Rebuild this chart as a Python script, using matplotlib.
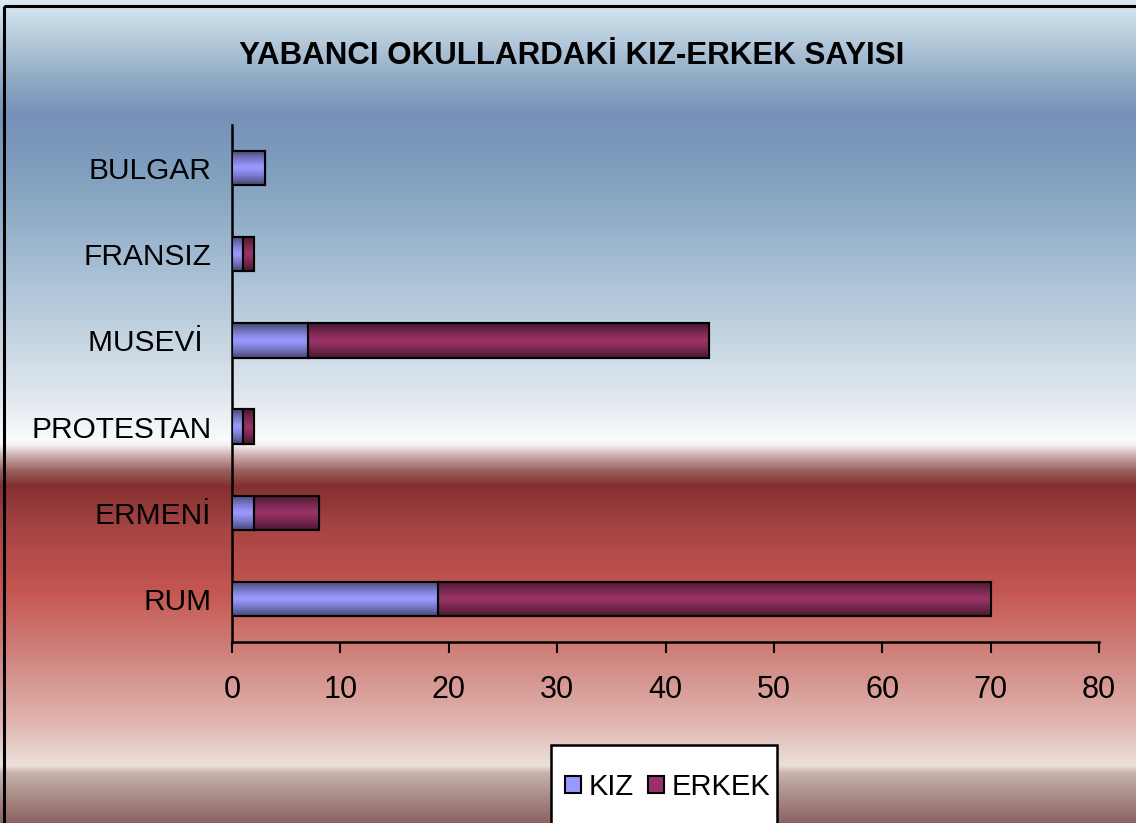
import numpy as np
import matplotlib
matplotlib.use("Agg")
import matplotlib.pyplot as plt
from matplotlib.colors import to_rgb
from matplotlib.patches import Rectangle

categories = ["BULGAR", "FRANSIZ", "MUSEVİ ", "PROTESTAN", "ERMENİ", "RUM"]
kiz = [3, 1, 7, 1, 2, 19]
erkek = [0, 1, 37, 1, 6, 51]
series_names = ["KIZ", "ERKEK"]
series_colors = ["#9999ff", "#993366"]
xticks = [0, 10, 20, 30, 40, 50, 60, 70, 80]
title = "YABANCI OKULLARDAKİ KIZ-ERKEK SAYISI"

plt.rcParams['font.family'] = ['Liberation Sans', 'DejaVu Sans']

W, H = 1136, 823
fig = plt.figure(figsize=(W / 100, H / 100), dpi=100)

# background gradient
stops = [(0, "#dde9f3"), (40, "#b5cadb"), (80, "#8ea9c4"), (115, "#7690b9"),
         (180, "#82a2bf"), (260, "#a3bcd2"), (340, "#c6d5e2"), (400, "#e2e9f0"),
         (440, "#fafbfc"), (445, "#f3eeee"), (452, "#d8c0c0"), (470, "#9a6060"),
         (485, "#843030"), (530, "#a84545"), (590, "#c45650"), (650, "#cf807a"),
         (720, "#e0b4ae"), (765, "#ece0da"), (772, "#c8b5ae"), (790, "#b09590"),
         (823, "#8c6060")]
ys = np.arange(H)
sy = [s[0] for s in stops]
cols = np.array([to_rgb(s[1]) for s in stops])
img = np.zeros((H, 1, 3))
for c in range(3):
    img[:, 0, c] = np.interp(ys, sy, cols[:, c])
bgax = fig.add_axes([0, 0, 1, 1], zorder=-10)
bgax.imshow(img, aspect='auto', extent=[0, W, H, 0], interpolation='bilinear')
bgax.set_xlim(0, W)
bgax.set_ylim(H, 0)
bgax.axis('off')
# outer frame
bgax.add_patch(Rectangle((4, 6), W + 10, H + 10, fill=False, edgecolor='black', lw=2.2))
# legend frame (extends past bottom edge)
bgax.add_patch(Rectangle((551, 745), 226, 120, facecolor='white', edgecolor='black', lw=1.8, zorder=5))

# main axes: x from 232 to 1099 px, y from 125 to 642 px
ax = fig.add_axes([232 / W, 1 - 642 / H, (1099 - 232) / W, (642 - 125) / H])
ax.patch.set_alpha(0)
y = np.arange(len(categories))
h = 0.4
b1 = ax.barh(y, kiz, height=h, color=series_colors[0], edgecolor='black', lw=1.5, label=series_names[0], zorder=3)
b2 = ax.barh(y, erkek, left=kiz, height=h, color=series_colors[1], edgecolor='black', lw=1.5, label=series_names[1], zorder=3)

# shading gradient on bars (darker at top and bottom edges)
grad = np.linspace(-1, 1, 60)
shade = np.abs(grad) ** 1.3
for bars, col in ((b1, series_colors[0]), (b2, series_colors[1])):
    base = np.array(to_rgb(col))
    for p in bars:
        if p.get_width() <= 0:
            continue
        x0, y0 = p.get_x(), p.get_y()
        w, hh = p.get_width(), p.get_height()
        g = np.zeros((60, 1, 3))
        for k in range(3):
            g[:, 0, k] = base[k] * (1 - 0.55 * shade)
        im = ax.imshow(g, aspect='auto', extent=[x0, x0 + w, y0, y0 + hh],
                       interpolation='bilinear', zorder=3.5)
        im.set_clip_path(p)
        ax.add_patch(Rectangle((x0, y0), w, hh, fill=False, edgecolor='black', lw=1.5, zorder=4))

ax.set_ylim(len(categories) - 0.5, -0.5)
ax.set_xlim(0, 80)
ax.set_xticks(xticks)
ax.set_yticks(y)
ax.set_yticklabels(categories)
ax.tick_params(axis='y', length=0, pad=15, labelsize=21.5)
ax.tick_params(axis='x', length=8, width=1.5, direction='out', pad=16, labelsize=22)
for s in ('top', 'right'):
    ax.spines[s].set_visible(False)
for s in ('left', 'bottom'):
    ax.spines[s].set_linewidth(1.8)
ax.set_aspect('auto')

fig.text(572 / W, 1 - 56 / H, title, ha='center', va='center', fontsize=22.5, fontweight='bold')

# legend
leg = fig.legend(handles=[b1, b2], labels=series_names, loc='center left',
                 bbox_to_anchor=(565 / W, 1 - 787 / H), ncol=2, frameon=False,
                 fontsize=21, handlelength=0.55, handleheight=0.55, handletextpad=0.25,
                 columnspacing=0.5, borderpad=0, borderaxespad=0)
leg.set_zorder(10)

fig.savefig("out.png", dpi=100)
